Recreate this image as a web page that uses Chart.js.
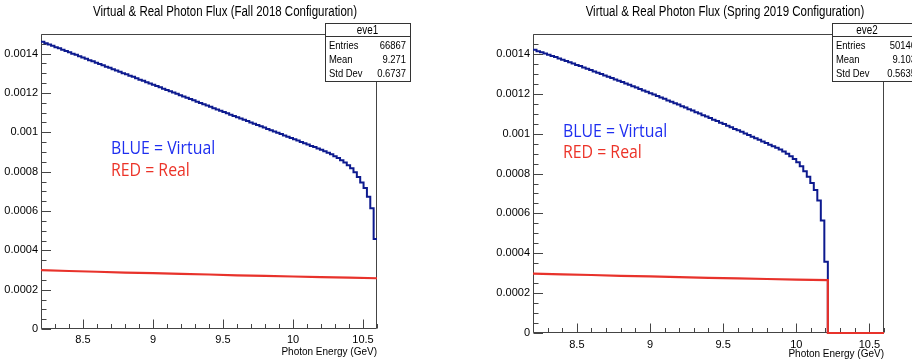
<!DOCTYPE html>
<html><head><meta charset="utf-8">
<script src="https://cdn.jsdelivr.net/npm/chart.js@4.4.1/dist/chart.umd.min.js"></script>
<style>
html,body{margin:0;padding:0;background:#fff;}
#wrap{position:relative;width:912px;height:362px;overflow:hidden;background:#fff;}
.pane{position:absolute;top:0;width:456px;height:362px;}
</style></head><body>
<div id="wrap">
<div class="pane" style="left:0"><canvas id="c1" width="456" height="362"></canvas></div>
<div class="pane" style="left:456px"><canvas id="c2" width="456" height="362"></canvas></div>
</div>
<script>
// ---------------- DATA ----------------
const histLow = 8.2, histBinWidth = 0.024, histBins = 100;   // 100 bins, 8.2 - 10.6 GeV
const xTickValues = [8.5, 9, 9.5, 10, 10.5];
const yTickValues = [0, 0.0002, 0.0004, 0.0006, 0.0008, 0.001, 0.0012, 0.0014];

// Fall 2018 virtual photon flux (blue histogram), per bin
const fallVirtual = [
0.001460,0.001453,0.001447,0.001440,0.001433,0.001427,0.001420,0.001414,0.001407,0.001400,
0.001394,0.001387,0.001380,0.001374,0.001367,0.001361,0.001354,0.001347,0.001341,0.001334,
0.001328,0.001321,0.001315,0.001308,0.001301,0.001295,0.001288,0.001282,0.001275,0.001268,
0.001262,0.001255,0.001248,0.001242,0.001235,0.001229,0.001222,0.001215,0.001209,0.001202,
0.001196,0.001189,0.001182,0.001176,0.001169,0.001163,0.001156,0.001149,0.001143,0.001136,
0.001130,0.001123,0.001116,0.001110,0.001103,0.001097,0.001090,0.001083,0.001077,0.001070,
0.001064,0.001057,0.001050,0.001044,0.001037,0.001031,0.001024,0.001017,0.001011,0.001004,
0.000998,0.000991,0.000984,0.000978,0.000971,0.000965,0.000958,0.000951,0.000945,0.000938,
0.000931,0.000925,0.000918,0.000911,0.000904,0.000896,0.000888,0.000879,0.000869,0.000858,
0.000846,0.000832,0.000817,0.000797,0.000773,0.000745,0.000717,0.000673,0.000614,0.000457];

// Spring 2019 virtual photon flux (blue histogram), per bin
const springVirtual = [
0.001421,0.001414,0.001408,0.001402,0.001396,0.001390,0.001384,0.001377,0.001371,0.001364,
0.001358,0.001352,0.001345,0.001339,0.001332,0.001326,0.001319,0.001312,0.001306,0.001299,
0.001292,0.001286,0.001279,0.001272,0.001266,0.001259,0.001252,0.001245,0.001238,0.001231,
0.001224,0.001217,0.001210,0.001203,0.001196,0.001189,0.001182,0.001175,0.001167,0.001160,
0.001153,0.001146,0.001138,0.001131,0.001123,0.001116,0.001108,0.001101,0.001093,0.001086,
0.001078,0.001070,0.001063,0.001055,0.001048,0.001040,0.001032,0.001024,0.001017,0.001009,
0.001001,0.000993,0.000985,0.000977,0.000969,0.000961,0.000953,0.000945,0.000937,0.000929,
0.000920,0.000910,0.000899,0.000887,0.000873,0.000856,0.000836,0.000812,0.000784,0.000752,
0.000717,0.000665,0.000565,0.000357,0,0,0,0,0,0,
0,0,0,0,0,0,0,0,0,0];

// Real photon flux (red curves)
const fallRealE  = [8.2, 8.4, 8.6, 8.8, 9.0, 9.2, 9.4, 9.6, 9.8, 10.0, 10.2, 10.4, 10.6];
const fallReal   = [0.000299,0.000295,0.000291,0.000287,0.000284,0.000280,0.000277,0.000273,0.000270,0.000267,0.000264,0.000261,0.000258];
const springRealE = [8.2, 8.4, 8.6, 8.8, 9.0, 9.2, 9.4, 9.6, 9.8, 10.0, 10.216, 10.216, 10.6];
const springReal  = [0.000298,0.000294,0.000291,0.000287,0.000284,0.000280,0.000277,0.000274,0.000271,0.000268,0.000265,0,0];

const statLabels = ['Entries', 'Mean', 'Std Dev'];
const fallStatValues = ['66867', '9.271', '0.6737'];
const springStatValues = ['50146', '9.103', '0.5635'];

// ---------------- HELPERS ----------------
const binEdges = Array.from({length: histBins + 1}, (_, i) => +(histLow + histBinWidth * i).toFixed(3));
function histPoints(vals) {
  const pts = vals.map((v, i) => ({x: binEdges[i], y: v}));
  pts.push({x: binEdges[histBins], y: vals[histBins - 1]});
  return pts;
}
function linePoints(xs, ys) { return xs.map((x, i) => ({x, y: ys[i]})); }

const probe = document.createElement('canvas').getContext('2d');
probe.font = '40px "Liberation Sans Narrow", monospace';
const wN = probe.measureText('Entries Mean').width;
probe.font = '40px monospace';
const HAS_NARROW = Math.abs(wN - probe.measureText('Entries Mean').width) > 1;
const FAM = HAS_NARROW ? '"Liberation Sans Narrow", "Liberation Sans", Arial, sans-serif' : '"Liberation Sans", Arial, sans-serif';
const SQX = HAS_NARROW ? 1 : 0.82;

function drawText(ctx, s, x, y, font, align, color, sx) {
  ctx.save();
  ctx.font = font; ctx.fillStyle = color; ctx.textAlign = align; ctx.textBaseline = 'alphabetic';
  ctx.translate(x, y); ctx.scale(sx, 1); ctx.fillText(s, 0, 0);
  ctx.restore();
}

const rootStyle = {
  id: 'rootStyle',
  beforeDatasetsDraw(chart) {
    const {ctx, chartArea: a} = chart;
    const xs = chart.scales.x, ys = chart.scales.y;
    ctx.save();
    ctx.strokeStyle = '#444'; ctx.lineWidth = 1;
    const L = Math.round(a.left) + 0.5, R = Math.round(a.right) - 0.5, T = Math.round(a.top) + 0.5, B = Math.round(a.bottom) - 0.5;
    ctx.beginPath(); ctx.rect(L, T, R - L, B - T); ctx.stroke();
    // inner ticks (ROOT style)
    ctx.beginPath();
    for (let v = 8.2; v <= 10.6001; v += 0.1) {
      const px = Math.round(xs.getPixelForValue(v)) + 0.5;
      const major = Math.abs(v * 2 - Math.round(v * 2)) < 1e-6;
      ctx.moveTo(px, B); ctx.lineTo(px, B - (major ? 9 : 4.5));
    }
    for (let k = 0; k <= 30; k++) {
      const v = k * 0.00005;
      const py = Math.round(ys.getPixelForValue(v)) + 0.5;
      const major = k % 4 === 0;
      ctx.moveTo(L, py); ctx.lineTo(L + (major ? 9.5 : 5), py);
    }
    ctx.stroke();
    ctx.restore();
  },
  afterDraw(chart, args, o) {
    const {ctx} = chart;
    ctx.save();
    // title
    drawText(ctx, o.title, o.titleX, 16, '14px ' + FAM, 'center', '#000', SQX);
    // notes
    o.notes.forEach(n => drawText(ctx, n.text, n.x, n.y, '18px "Open Sans", "Noto Sans", sans-serif', 'left', n.color, 0.88));
    // stats box
    const s = o.stat;
    ctx.fillStyle = '#fff'; ctx.fillRect(s.x, s.y, s.w, s.h);
    ctx.strokeStyle = '#333'; ctx.lineWidth = 1; ctx.strokeRect(s.x + 0.5, s.y + 0.5, s.w, s.h);
    ctx.beginPath(); ctx.moveTo(s.x, s.y + 13.5); ctx.lineTo(s.x + s.w, s.y + 13.5); ctx.stroke();
    drawText(ctx, o.statName, s.hx, s.y + 10.5, '12px ' + FAM, 'center', '#000', SQX);
    statLabels.forEach((lab, i) => {
      const yy = s.y + 25.5 + i * 14;
      drawText(ctx, lab, s.x + 4, yy, '11.5px ' + FAM, 'left', '#000', SQX);
      drawText(ctx, o.statValues[i], s.vx, yy, '11.5px ' + FAM, 'right', '#000', SQX);
    });
    ctx.restore();
  }
};

function makeChart(id, virt, realPts, cfg) {
  const font = {family: FAM, size: 11};
  return new Chart(document.getElementById(id), {
    type: 'line',
    data: {datasets: [
      {data: realPts, borderColor: '#e8322b', borderWidth: 2.2, pointRadius: 0, tension: 0, order: 0, borderJoinStyle: 'miter', clip: false},
      {data: histPoints(virt), borderColor: '#0d1a8f', borderWidth: 2, pointRadius: 0, stepped: 'before', order: 1, borderJoinStyle: 'miter'}
    ]},
    options: {
      responsive: false, animation: false, events: [],
      layout: {padding: {left: 0, right: cfg.padRight, top: cfg.top, bottom: 0}},
      plugins: {legend: {display: false}, tooltip: {enabled: false}, rootStyle: cfg.plugin},
      scales: {
        x: {type: 'linear', min: 8.2, max: 10.6,
            afterBuildTicks: s => { s.ticks = xTickValues.map(v => ({value: v})); },
            afterFit: s => { s.height = cfg.xHeight; },
            grid: {display: false, drawTicks: false}, border: {display: false},
            ticks: {padding: cfg.xPad, color: '#000', font, maxRotation: 0, autoSkip: false, callback: v => String(v)},
            title: {display: true, text: 'Photon Energy (GeV)', align: 'end', color: '#000', font: {family: FAM, size: 10}, padding: {top: 0, bottom: cfg.titlePad}}},
        y: {type: 'linear', min: 0, max: 0.0015,
            afterBuildTicks: s => { s.ticks = yTickValues.map(v => ({value: v})); },
            afterFit: s => { s.width = cfg.yWidth; },
            grid: {display: false, drawTicks: false}, border: {display: false},
            ticks: {padding: 3, color: '#000', font, callback: v => String(v)}}
      }
    },
    plugins: [rootStyle]
  });
}

makeChart('c1', fallVirtual, linePoints(fallRealE, fallReal), {
  padRight: 79, top: 34, xHeight: 33, yWidth: 41, xPad: 4, titlePad: 4,
  plugin: {title: 'Virtual & Real Photon Flux (Fall 2018 Configuration)', titleX: 225,
    notes: [{text: 'BLUE = Virtual', x: 111, y: 154, color: '#1f2ff0'}, {text: 'RED = Real', x: 111, y: 176, color: '#ec3328'}],
    stat: {x: 325, y: 23, w: 85, h: 58, hx: 367.5, vx: 406}, statName: 'eve1', statValues: fallStatValues}
});
makeChart('c2', springVirtual, linePoints(springRealE, springReal), {
  padRight: 28, top: 34, xHeight: 29, yWidth: 77, xPad: 5, titlePad: 2,
  plugin: {title: 'Virtual & Real Photon Flux (Spring 2019 Configuration)', titleX: 269,
    notes: [{text: 'BLUE = Virtual', x: 107, y: 137, color: '#1f2ff0'}, {text: 'RED = Real', x: 107, y: 158, color: '#ec3328'}],
    stat: {x: 376, y: 23, w: 85, h: 58, hx: 411, vx: 460}, statName: 'eve2', statValues: springStatValues}
});
</script>
</body></html>
